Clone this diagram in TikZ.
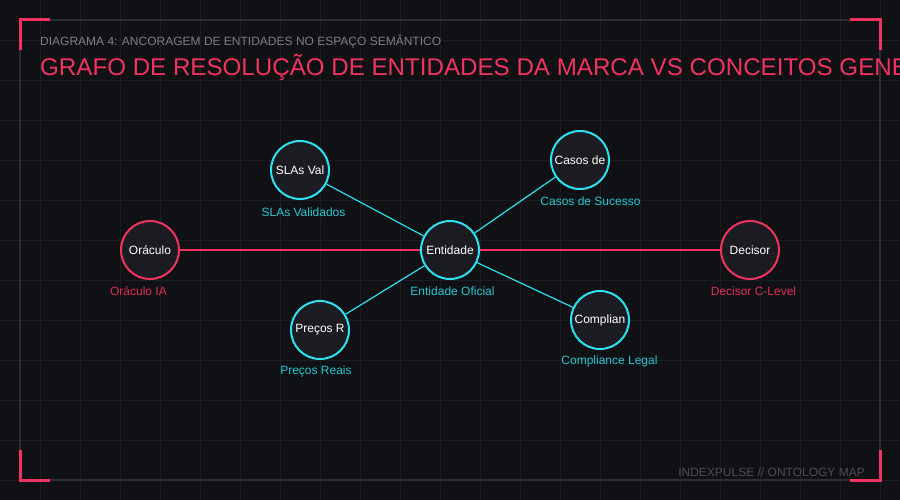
\documentclass[tikz,border=0pt]{standalone}
\usepackage{fontspec}
\setmainfont{Liberation Sans}
\usetikzlibrary{positioning}
\definecolor{bgdark}{HTML}{0F1115}
\definecolor{gridgrey}{HTML}{1A1D22}
\definecolor{framegrey}{HTML}{2C2E34}
\definecolor{subgrey}{HTML}{7C7F87}
\definecolor{footgrey}{HTML}{4A4D54}
\definecolor{neonpink}{HTML}{F2335F}
\definecolor{neoncyan}{HTML}{2DE2F0}
\definecolor{nodefill}{HTML}{1A1C22}
\tikzset{
  brandnode/.style={circle, draw=neonpink, fill=nodefill, line width=2, minimum size=58, inner sep=0, text=white, font=\fontsize{12}{14}\selectfont},
  factnode/.style={brandnode, draw=neoncyan},
  pinklabel/.style={text=neonpink!92!black, font=\fontsize{12}{14}\selectfont},
  cyanlabel/.style={text=neoncyan!88!black, font=\fontsize{12}{14}\selectfont},
  pinkedge/.style={draw=neonpink, line width=2},
  cyanedge/.style={draw=neoncyan, line width=1.2}
}

\begin{document}
\begin{tikzpicture}[x=1pt,y=-1pt]
			%%%%% START %%%%%
			\useasboundingbox (0,0) rectangle (900,500);
			\clip (0,0) rectangle (900,500);
			\fill[bgdark] (0,0) rectangle (900,500);
			
			% grid
			\foreach \gx in {40,80,...,880}
				\draw[gridgrey, line width=0.8] (\gx,0) -- (\gx,500);
			\foreach \gy in {40,80,...,480}
				\draw[gridgrey, line width=0.8] (0,\gy) -- (900,\gy);
			
			% frame and corners
			\draw[framegrey, line width=1.5] (20,20) rectangle (880,480);
			\draw[neonpink, line width=3] (20,50) -- (20,20) -- (50,20);
			\draw[neonpink, line width=3] (850,20) -- (880,20) -- (880,50);
			\draw[neonpink, line width=3] (20,450) -- (20,480) -- (50,480);
			\draw[neonpink, line width=3] (850,480) -- (880,480) -- (880,450);
			
			% titles
			\node[anchor=base west, inner sep=0, text=subgrey, font=\fontsize{12}{14}\selectfont] (subtitle) at (40,46) {DIAGRAMA 4: ANCORAGEM DE ENTIDADES NO ESPAÇO SEMÂNTICO};
			\node[anchor=base west, inner sep=0, text=neonpink, font=\fontsize{24.15}{28}\selectfont] (title) at (40,76) {GRAFO DE RESOLUÇÃO DE ENTIDADES DA MARCA VS CONCEITOS GENERICOS};
			\node[anchor=base east, inner sep=0, text=footgrey, font=\fontsize{12}{14}\selectfont] (footer) at (865,476) {INDEXPULSE // ONTOLOGY MAP};
			
			% nodes
			\node[brandnode] (oraculo) at (150,250) {Oráculo};
			\node[factnode] (entidade) at (450,250) {Entidade};
			\node[brandnode] (decisor) at (750,250) {Decisor};
			\node[factnode] (slas) at (300,170) {SLAs Val};
			\node[factnode] (casos) at (580,160) {Casos de};
			\node[factnode] (precos) at (320,330) {Preços R};
			\node[factnode] (compliance) at (600,320) {Complian};
			
			% edges
			\draw[pinkedge] (oraculo) -- (entidade);
			\draw[pinkedge] (entidade) -- (decisor);
			\draw[cyanedge] (entidade) -- (slas);
			\draw[cyanedge] (entidade) -- (casos);
			\draw[cyanedge] (entidade) -- (precos);
			\draw[cyanedge] (entidade) -- (compliance);
			
			% labels
			\node[pinklabel] (oraculolbl) at (138.5,291) {Oráculo IA};
			\node[cyanlabel] (entidadelbl) at (452.5,291) {Entidade Oficial};
			\node[pinklabel] (decisorlbl) at (753.5,291) {Decisor C-Level};
			\node[cyanlabel] (slaslbl) at (303.5,212) {SLAs Validados};
			\node[cyanlabel] (casoslbl) at (590.5,201) {Casos de Sucesso};
			\node[cyanlabel] (precoslbl) at (316,371) {Preços Reais};
			\node[cyanlabel] (compliancelbl) at (609.5,361) {Compliance Legal};
			%%%%% END %%%%%
\end{tikzpicture}
\end{document}
